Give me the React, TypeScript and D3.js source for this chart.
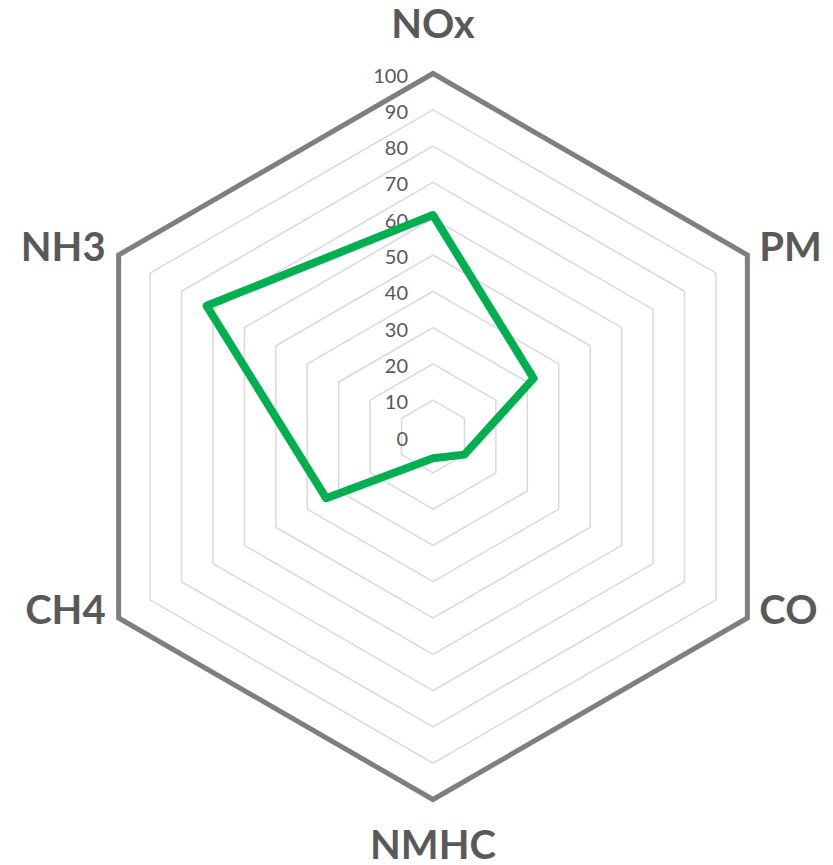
import React from "react";
import * as d3 from "d3";

const categories = ["NOx", "PM", "CO", "NMHC", "CH4", "NH3"];
const values = [61, 32, 10, 6, 34, 72];
const ticks = [0, 10, 20, 30, 40, 50, 60, 70, 80, 90, 100];

const W = 833, H = 865;
const cx = 433, cy = 436.5, R = 363;

export default function App() {
  const r = d3.scaleLinear().domain([0, 100]).range([0, R]);
  const n = categories.length;
  const angle = (i: number) => (i * 2 * Math.PI) / n;
  const pt = (i: number, v: number): [number, number] => [
    cx + r(v) * Math.sin(angle(i)),
    cy - r(v) * Math.cos(angle(i)),
  ];
  const line = d3.line<[number, number]>().curve(d3.curveLinearClosed);
  const ring = (v: number) => line(categories.map((_, i) => pt(i, v))) || "";
  const series = line(values.map((v, i) => pt(i, v))) || "";

  const labelPos = (i: number) => {
    const [x, y] = pt(i, 100);
    const s = Math.sin(angle(i));
    const c = Math.cos(angle(i));
    if (Math.abs(s) < 0.01) {
      return { x, y: c > 0 ? y - 51 : y + 44, anchor: "middle" };
    }
    return { x: s > 0 ? x + 12 : x - 13, y: y - 9, anchor: s > 0 ? "start" : "end" };
  };

  return (
    <svg width={W} height={H} style={{ position: "absolute", left: 0, top: 0, background: "#fff" }}>
      {ticks.slice(1, -1).map((t) => (
        <path key={t} d={ring(t)} fill="none" stroke="#d9d9d9" strokeWidth={1.5} />
      ))}
      <path d={ring(100)} fill="none" stroke="#7f7f7f" strokeWidth={5} strokeLinejoin="miter" />
      {ticks.map((t) => (
        <text
          key={t}
          x={cx - 25}
          y={cy - r(t) + 1}
          textAnchor="end"
          dominantBaseline="central"
          fontFamily="Lato, Carlito, sans-serif"
          fontSize={20}
          fill="#595959"
        >
          {t}
        </text>
      ))}
      <path d={series} fill="none" stroke="#00b050" strokeWidth={8} strokeLinejoin="round" />
      {categories.map((c, i) => {
        const p = labelPos(i);
        return (
          <text
            key={c}
            x={p.x}
            y={p.y}
            textAnchor={p.anchor as any}
            dominantBaseline="central"
            fontFamily="Lato, Carlito, sans-serif"
            fontWeight="bold"
            fontSize={40}
            fill="#595959"
          >
            {c}
          </text>
        );
      })}
    </svg>
  );
}
